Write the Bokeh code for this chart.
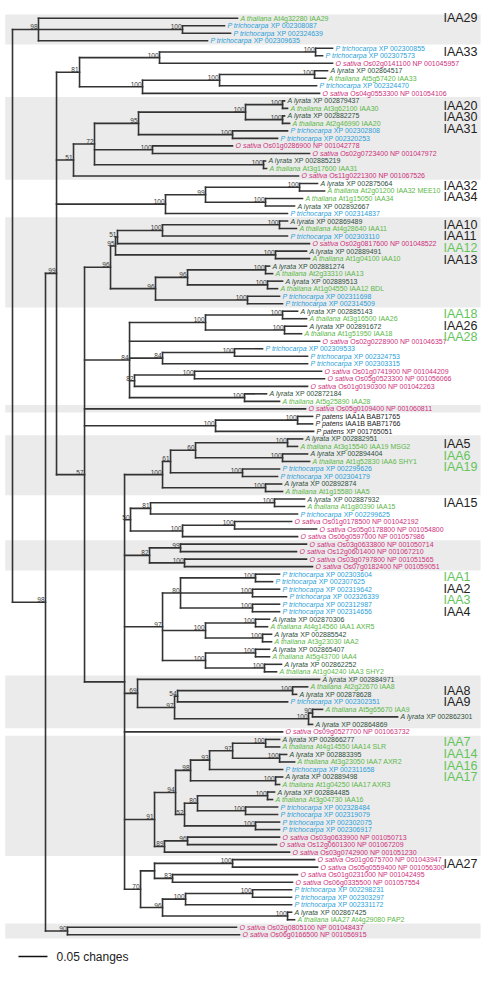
from bokeh.plotting import figure
from bokeh.models import Range1d, ColumnDataSource
from bokeh.core.properties import value
from bokeh.embed import file_html
from bokeh.resources import INLINE

# ---------------- data ----------------
species_names = {"At": "A thaliana", "Al": "A lyrata", "Pt": "P trichocarpa",
                 "Os": "O sativa", "Pp": "P patens"}
species_colors = {"At": "#5cb848", "Al": "#2d4f3b", "Pt": "#2b9fd9",
                  "Os": "#cf2f7c", "Pp": "#1a1a1a"}

leaf_species = ["At", "Pt", "Pt", "Pt", "Pt", "Pt", "Os", "Al", "At", "Pt", "Os",
                "Al", "At", "Al", "At", "Pt", "Pt", "Os", "Os", "Al", "At", "Os",
                "Al", "At", "At", "Al", "Pt",
                "Al", "At", "Pt", "Os", "Al", "At", "Al", "At", "Al", "At", "Pt", "Pt",
                "Al", "At", "Al", "At", "Os", "Pt", "Pt", "Pt", "Os", "Os", "Os", "Al", "At",
                "Os", "Pp", "Pp", "Pp",
                "Al", "At", "Al", "At", "Pt", "Pt", "Al", "At",
                "Al", "At", "Pt", "Os", "Os", "Os",
                "Os", "Os", "Os", "Os",
                "Pt", "Pt", "Pt", "Pt", "Pt", "Pt", "Al", "At", "Al", "At", "Al", "At", "Al", "At",
                "Al", "At", "Al", "Pt", "At", "Al", "Al",
                "Os",
                "Al", "At", "Al", "At", "Pt", "Al", "At", "Al", "At", "Pt", "Pt", "Pt", "Pt", "Os", "Os", "Os",
                "Os", "Os", "Os", "Os", "Pt", "Pt", "Pt", "Al", "At",
                "Os", "Os"]

leaf_ids = ["At4g32280 IAA29", "XP 002308087", "XP 002324639", "XP 002309635",
            "XP 002300855", "XP 002307573", "Os02g0141100 NP 001045957", "XP 002864517",
            "At5g57420 IAA33", "XP 002324470", "Os04g0553300 NP 001054106",
            "XP 002879437", "At3g62100 IAA30", "XP 002882275", "At2g46990 IAA20",
            "XP 002302808", "XP 002320253", "Os01g0286900 NP 001042778",
            "Os02g0723400 NP 001047972", "XP 002885219", "At3g17600 IAA31",
            "Os11g0221300 NP 001067526",
            "XP 002875064", "At2g01200 IAA32 MEE10", "At1g15050 IAA34", "XP 002892667",
            "XP 002314837",
            "XP 002869489", "At4g28640 IAA11", "XP 002303110", "Os02g0817600 NP 001048522",
            "XP 002889491", "At1g04100 IAA10", "XP 002881274", "At2g33310 IAA13",
            "XP 002889513", "At1g04550 IAA12 BDL", "XP 002311698", "XP 002314509",
            "XP 002885143", "At3g16500 IAA26", "XP 002891672", "At1g51950 IAA18",
            "Os02g0228900 NP 001046357", "XP 002309533", "XP 002324753", "XP 002303315",
            "Os01g0741900 NP 001044209", "Os05g0523300 NP 001056066",
            "Os01g0190300 NP 001042263", "XP 002872184", "At5g25890 IAA28",
            "Os05g0109400 NP 001060811", "IAA1A BAB71765", "IAA1B BAB71766", "XP 001765051",
            "XP 002882951", "At3g15540 IAA19 MSG2", "XP 002894404", "At1g52830 IAA6 SHY1",
            "XP 002299626", "XP 002304179", "XP 002892874", "At1g15580 IAA5",
            "XP 002887932", "At1g80390 IAA15", "XP 002299625", "Os01g0178500 NP 001042192",
            "Os05g0178800 NP 001054800", "Os06g0597000 NP 001057986",
            "Os03g0633800 NP 001050714", "Os12g0601400 NP 001067210",
            "Os03g0797800 NP 001051565", "Os07g0182400 NP 001059051",
            "XP 002303604", "XP 002307625", "XP 002319642", "XP 002326339", "XP 002312987",
            "XP 002314656", "XP 002870306", "At4g14560 IAA1 AXR5", "XP 002885542",
            "At3g23030 IAA2", "XP 002865407", "At5g43700 IAA4", "XP 002862252",
            "At1g04240 IAA3 SHY2",
            "XP 002884971", "At2g22670 IAA8", "XP 002878628", "XP 002302351",
            "At5g65670 IAA9", "XP 002862301", "XP 002864869",
            "Os09g0527700 NP 001063732",
            "XP 002866277", "At4g14550 IAA14 SLR", "XP 002883395", "At3g23050 IAA7 AXR2",
            "XP 002311658", "XP 002889498", "At1g04250 IAA17 AXR3", "XP 002884485",
            "At3g04730 IAA16", "XP 002328484", "XP 002319079", "XP 002302075",
            "XP 002306917", "Os03g0633900 NP 001050713", "Os12g0601300 NP 001067209",
            "Os03g0742900 NP 001051230",
            "Os01g0675700 NP 001043947", "Os05g0559400 NP 001056300",
            "Os01g0231000 NP 001042495", "Os06g0335500 NP 001057554",
            "XP 002298231", "XP 002303297", "XP 002331172", "XP 002867425",
            "IAA27 At4g29080 PAP2",
            "Os02g0805100 NP 001048437", "Os06g0166500 NP 001056915"]

# tree (Newick; leaf names = leaf index, internal labels = bootstrap support,
# branch lengths in "changes")
clade_iaa29 = "(0:0.3431,(1:0.0724,2:0.0828)100:0.2483,3:0.2914)98:0.0448"
clade_iaa33 = ("(((4:0.0293,5:0.0121)100:0.2690,6:0.2983)100:0.1379,"
               "(((7:0.0224,8:0.0190)100:0.1638,9:0.1672)100:0.1328,10:0.3052)100:0.1086)81:0.0397")
clade_iaa20 = ("(((((11:0.0034,12:0.0086)100:0.0638,(13:0.0034,14:0.0121)100:0.0638)100:0.1845,"
               "(15:0.0948,16:0.0776)100:0.1621)95:0.0759,(17:0.1379,18:0.2707)100:0.1000,"
               "(19:0.0034,20:0.0052)100:0.2914)72:0.0362,21:0.3879)51:0.0293")
clade_iaa32 = ("(((22:0.0310,23:0.0431)100:0.1621,(24:0.0638,25:0.0500)100:0.1034)99:0.0690,"
               "26:0.2103)100:0.1879")
clade_iaa10 = ("(((((27:0.0138,28:0.0293)100:0.2017,29:0.2155)100:0.0776,30:0.3310)51:0.0034,"
               "(31:0.0534,32:0.0586)100:0.2759)95:0.0086,(((33:0.0069,34:0.0121)100:0.1345,"
               "(35:0.0259,36:0.0172)100:0.1379)96:0.0552,(37:0.0552,38:0.0603)100:0.1586)96:0.0776)96:0.0448")
clade_iaa18 = ("(((39:0.0259,40:0.0414)100:0.1328,(41:0.0379,42:0.0293)100:0.1362)100:0.1310,"
               "43:0.3276,((44:0.0483,45:0.1259)100:0.1241,46:0.2500)84:0.0569,"
               "((47:0.2190,48:0.2241)100:0.1034,49:0.2983)82:0.0086,"
               "(50:0.0379,51:0.0603)100:0.1983)84:0.0776")
clade_ppatens = "52:0.3810,((53:0.0259,54:0.0259)100:0.1414,55:0.1690)100:0.2259"
clade_iaa5 = ("((((56:0.0259,57:0.0172)100:0.1586,(58:0.0431,59:0.0466)100:0.1500)60:0.0431,"
              "(60:0.0638,61:0.0603)100:0.1241)61:0.0138,(62:0.0276,63:0.0293)100:0.1776)100:0.0655")
clade_iaa15 = ("(((64:0.0517,65:0.0517)100:0.2138,66:0.2534)81:0.0345,"
               "((67:0.0983,68:0.1414)100:0.0897,69:0.1983)100:0.0897)50:0.0103,"
               "((70:0.2172,71:0.2000)99:0.0534,(72:0.2103,73:0.2207)100:0.0603)82:0.0431")
clade_iaa1 = ("(((74:0.0414,75:0.0293)100:0.1293,(76:0.0466,77:0.0586)100:0.1241,"
              "(78:0.0466,79:0.0466)100:0.1241)80:0.0310,"
              "((80:0.0241,81:0.0207)100:0.0862,(82:0.0155,83:0.0155)100:0.0983)100:0.0741,"
              "((84:0.0241,85:0.0241)100:0.0862,(86:0.0293,87:0.0207)100:0.1017)100:0.0741)97:0.0655")
clade_iaa8 = ("(88:0.3138,(((89:0.0259,90:0.0069)100:0.1983,91:0.1897)54:0.0052,"
              "((92:0.0172,93:0.1466)90:0.0069,94:0.0069)100:0.2310)97:0.0638)69:0.0224,95:0.2724")
clade_iaa7 = ("((((((96:0.0241,97:0.0241)100:0.0569,(98:0.0121,99:0.0259)100:0.0810)97:0.0397,"
              "100:0.1259)93:0.0328,(101:0.0121,102:0.0069)100:0.1466)98:0.0259,"
              "(((103:0.0121,104:0.0086)100:0.1207,(105:0.0552,106:0.0552)100:0.0828)80:0.0224,"
              "(107:0.0414,108:0.0414)100:0.1224)52:0.0155)94:0.0362,"
              "((109:0.1586,110:0.1534)96:0.0397,111:0.2155)89:0.0172)91:0.0517")
clade_iaa27 = ("(((112:0.1414,113:0.1466)100:0.1345,(114:0.2155,115:0.2069)83:0.0310):0.0241,"
               "(((116:0.0672,117:0.0672)100:0.1155,118:0.1828)100:0.0397,"
               "(119:0.0069,120:0.0121)100:0.2155)96:0.0379)70:0.0276")
clade_basal = "(121:0.2914,122:0.2966)90:0.0379"

clade_j = ("(" + ",".join([clade_iaa5, clade_iaa15, clade_iaa1, clade_iaa8,
                           clade_iaa7, clade_iaa27]) + "):0.0690")
clade_57 = "(" + ",".join([clade_iaa10, clade_iaa18, clade_ppatens, clade_j]) + ")57:0.0483"
clade_99 = "(" + ",".join([clade_iaa33, clade_iaa20, clade_iaa32, clade_57]) + ")99:0.0190"
newick = "(" + clade_iaa29 + ",(" + clade_99 + "," + clade_basal + ")98:0.0569);"

# group bands (first leaf, last leaf) and their labels
band_ranges = [(0, 3), (11, 21), (27, 38), (52, 52), (56, 63), (70, 73),
               (88, 94), (96, 111), (121, 122)]
group_labels = [["IAA29"], ["IAA33"], ["IAA20", "IAA30", "IAA31"], ["IAA32", "IAA34"],
                ["IAA10", "IAA11", "IAA12", "IAA13"], ["IAA18", "IAA26", "IAA28"],
                ["IAA5", "IAA6", "IAA19"], ["IAA15"], ["IAA1", "IAA2", "IAA3", "IAA4"],
                ["IAA8", "IAA9"], ["IAA7", "IAA14", "IAA16", "IAA17"], ["IAA27"]]
group_label_row = [0.0, 4.47, 11.66, 22.3, 27.5, 39.4, 56.7, 64.5, 74.4, 89.5, 96.4, 112.6]
green_groups = {"IAA12", "IAA18", "IAA28", "IAA6", "IAA19", "IAA1", "IAA3",
                "IAA7", "IAA14", "IAA16", "IAA17"}

scale_length = 0.05
scale_text = "0.05 changes"

# ---------------- tree parsing / layout ----------------
def parse_newick(s):
    pos = 0

    def node():
        nonlocal pos
        kids = []
        if s[pos] == "(":
            pos += 1
            while True:
                kids.append(node())
                if s[pos] == ",":
                    pos += 1
                    continue
                if s[pos] == ")":
                    pos += 1
                    break
        st = pos
        while pos < len(s) and s[pos] not in ":,);":
            pos += 1
        name = s[st:pos]
        ln = 0.0
        if pos < len(s) and s[pos] == ":":
            pos += 1
            st = pos
            while pos < len(s) and s[pos] not in ",);":
                pos += 1
            ln = float(s[st:pos])
        return {"name": name, "len": ln, "kids": kids}

    return node()


tree = parse_newick(newick)
hx0, hy0, hx1, hy1 = [], [], [], []
sup_x, sup_y, sup_t = [], [], []
leaf_x = {}


def lay(n, parent_x, is_root=False):
    n["x"] = parent_x + n["len"]
    if not n["kids"]:
        n["y"] = float(int(n["name"]))
        leaf_x[int(n["name"])] = n["x"]
    else:
        for k in n["kids"]:
            lay(k, n["x"])
        n["y"] = (n["kids"][0]["y"] + n["kids"][-1]["y"]) / 2.0
        hx0.append(n["x"]); hy0.append(n["kids"][0]["y"])
        hx1.append(n["x"]); hy1.append(n["kids"][-1]["y"])
        if n["name"] and not is_root:
            sup_x.append(n["x"]); sup_y.append(n["y"]); sup_t.append(n["name"])
    if not is_root:
        hx0.append(parent_x); hy0.append(n["y"])
        hx1.append(n["x"]); hy1.append(n["y"])


lay(tree, 0.0, is_root=True)

# ---------------- figure ----------------
W, H = 485, 968
p = figure(width=W, height=H, x_range=Range1d(-0.0207, 0.8155),
           y_range=Range1d(126.49, -2.356), output_backend="svg",
           toolbar_location=None, min_border=0,
           x_axis_location=None, y_axis_location=None)
p.grid.visible = False
p.outline_line_color = None
p.background_fill_color = "white"
p.border_fill_color = "white"

FONT = value("Liberation Sans")

# bands
p.quad(left=-0.0126, right=0.807,
       top=[a - 0.5 for a, b in band_ranges], bottom=[b + 0.5 for a, b in band_ranges],
       fill_color="#ebebeb", line_color=None)

# branches
p.segment(x0=hx0, y0=hy0, x1=hx1, y1=hy1, line_color="#333333", line_width=1.6,
          line_cap="square")

# support values
p.text(x=sup_x, y=sup_y, text=sup_t, text_font=FONT, text_font_size="6.5px",
       text_align="right", text_baseline="bottom", x_offset=-1, y_offset=0,
       text_color="#333333")

# leaf labels: italic species + accession
ARIAL = {" ": 278, "A": 667, "O": 778, "P": 667, "a": 556, "t": 278, "h": 556, "l": 222,
         "i": 222, "n": 556, "y": 500, "r": 333, "c": 500, "o": 556, "p": 556, "e": 556,
         "s": 500, "v": 500}
LEAF_FS = 7.0


def tw(s):
    return sum(ARIAL.get(c, 556) for c in s) * LEAF_FS / 1000.0


n_leaf = len(leaf_ids)
lx = [leaf_x[i] for i in range(n_leaf)]
ly = list(range(n_leaf))
lcol = [species_colors[s] for s in leaf_species]
src = ColumnDataSource(dict(x=lx, y=ly, sp=[species_names[s] for s in leaf_species],
                            acc=leaf_ids, col=lcol,
                            off=[3 + tw(species_names[s] + " ") for s in leaf_species]))
p.text(x="x", y="y", text="sp", source=src, text_font=FONT, text_font_size="7px",
       text_font_style="italic", text_color="col", text_baseline="middle",
       text_align="left", x_offset=3)
p.text(x="x", y="y", text="acc", source=src, text_font=FONT, text_font_size="7px",
       text_color="col", text_baseline="middle", text_align="left", x_offset="off")

# group labels
gx, gy, gt, gc = [], [], [], []
for labels, row in zip(group_labels, group_label_row):
    for k, lab in enumerate(labels):
        gx.append(0.743)
        gy.append(row + k * 1.55)
        gt.append(lab)
        gc.append("#63c45a" if lab in green_groups else "#222222")
p.text(x=gx, y=gy, text=gt, text_color=gc, text_font=FONT, text_font_size="12.5px",
       text_baseline="middle", text_align="left")

# scale bar
sb_x0, sb_y = 0.0103, 124.9
p.segment(x0=[sb_x0], y0=[sb_y], x1=[sb_x0 + scale_length], y1=[sb_y],
          line_color="#111111", line_width=1.5)
p.text(x=[sb_x0 + scale_length], y=[sb_y], text=[scale_text], text_font=FONT,
       text_font_size="12px", text_baseline="middle", text_align="left", x_offset=9,
       text_color="#222222")

open("out.html", "w").write(file_html(p, INLINE))
